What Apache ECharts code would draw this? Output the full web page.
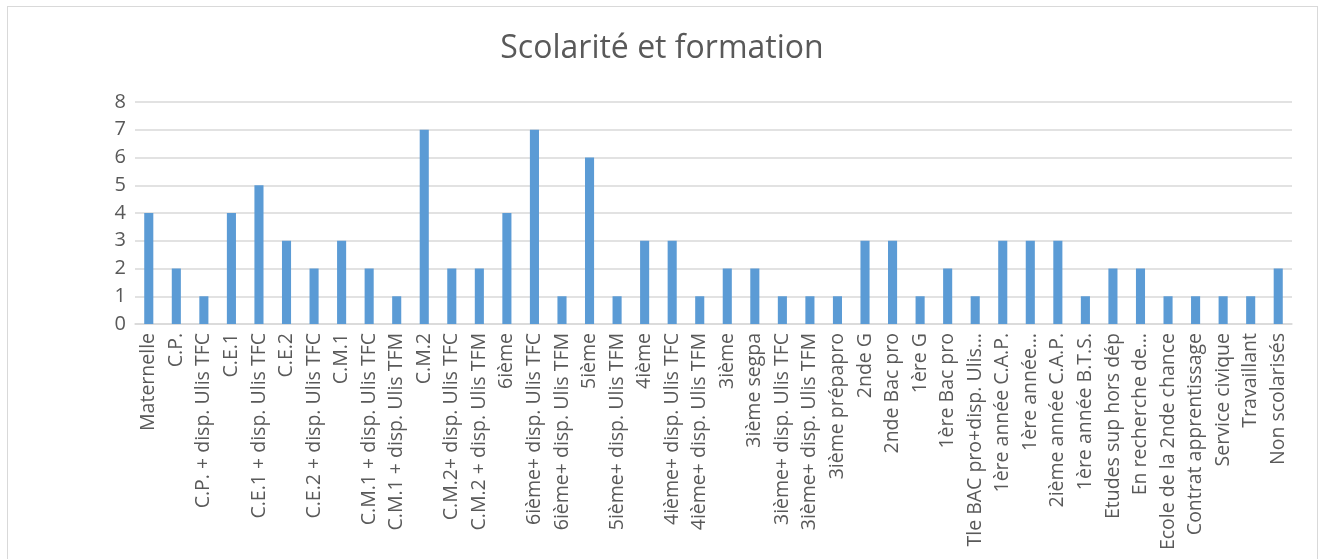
<!DOCTYPE html>
<html>
<head>
<meta charset="utf-8">
<script src="https://cdn.jsdelivr.net/npm/echarts@6/dist/echarts.min.js"></script>
<style>
  html, body { margin: 0; padding: 0; background: #fff; }
  #frame {
    position: absolute; left: 7px; top: 6px; width: 1311px; height: 570px;
    border: 1px solid #d9d9d9; box-sizing: border-box;
  }
  #chart { position: absolute; left: 0; top: 0; width: 1324px; height: 559px; }
</style>
</head>
<body>
<div id="frame"></div>
<div id="chart"></div>
<script>
// Category labels as printed under the axis (Excel truncates the long ones).
const categories = [
  "Maternelle", "C.P.", "C.P. + disp. Ulis TFC", "C.E.1", "C.E.1 + disp. Ulis TFC",
  "C.E.2", "C.E.2 + disp. Ulis TFC", "C.M.1", "C.M.1 + disp. Ulis TFC",
  "C.M.1 + disp. Ulis TFM", "C.M.2", "C.M.2+ disp. Ulis TFC", "C.M.2 + disp. Ulis TFM",
  "6ième", "6ième+ disp. Ulis TFC", "6ième+ disp. Ulis TFM", "5ième",
  "5ième+ disp. Ulis TFM", "4ième", "4ième+ disp. Ulis TFC", "4ième+ disp. Ulis TFM",
  "3ième", "3ième segpa", "3ième+ disp. Ulis TFC", "3ième+ disp. Ulis TFM",
  "3ième prépapro", "2nde G", "2nde Bac pro", "1ère G", "1ère Bac pro",
  "Tle BAC pro+disp. Ulis…", "1ère année C.A.P.", "1ère année…", "2ième année C.A.P.",
  "1ère année B.T.S.", "Etudes sup hors dép", "En recherche de…",
  "Ecole de la 2nde chance", "Contrat apprentissage", "Service civique",
  "Travaillant", "Non scolarisés",
];

const counts = [
  4, 2, 1, 4, 5, 3, 2, 3, 2, 1, 7, 2, 2, 4, 7, 1, 6, 1, 3, 3, 1,
  2, 2, 1, 1, 1, 3, 3, 1, 2, 1, 3, 3, 3, 1, 2, 2, 1, 1, 1, 1, 2,
];

const yTicks = { min: 0, max: 8, interval: 1 };

const FONT = "'Open Sans', sans-serif";
const INK = "#595959";
const GRID = "#d9d9d9";

const chart = echarts.init(document.getElementById("chart"));
chart.setOption({
  animation: false,
  title: {
    text: "Scolarité et formation",
    left: "center",
    top: 28,
    textStyle: { fontFamily: FONT, fontSize: 32, fontWeight: "normal", color: INK },
  },
  grid: { left: 135, right: 32, top: 102, bottom: 235 },
  xAxis: {
    type: "category",
    data: categories,
    axisLine: { lineStyle: { color: GRID, width: 1.5 } },
    axisTick: { show: false },
    axisLabel: {
      interval: 0,
      rotate: 90,
      margin: 9,
      fontFamily: FONT,
      fontSize: 19.5,
      color: INK,
    },
  },
  yAxis: {
    type: "value",
    ...yTicks,
    axisLine: { show: false },
    axisTick: { show: false },
    splitLine: { lineStyle: { color: GRID, width: 1.5 } },
    axisLabel: { margin: 9, fontFamily: FONT, fontSize: 20, color: INK },
  },
  series: [
    {
      type: "bar",
      data: counts,
      barWidth: "33%",
      itemStyle: { color: "#5b9bd5" },
    },
  ],
});
</script>
</body>
</html>
